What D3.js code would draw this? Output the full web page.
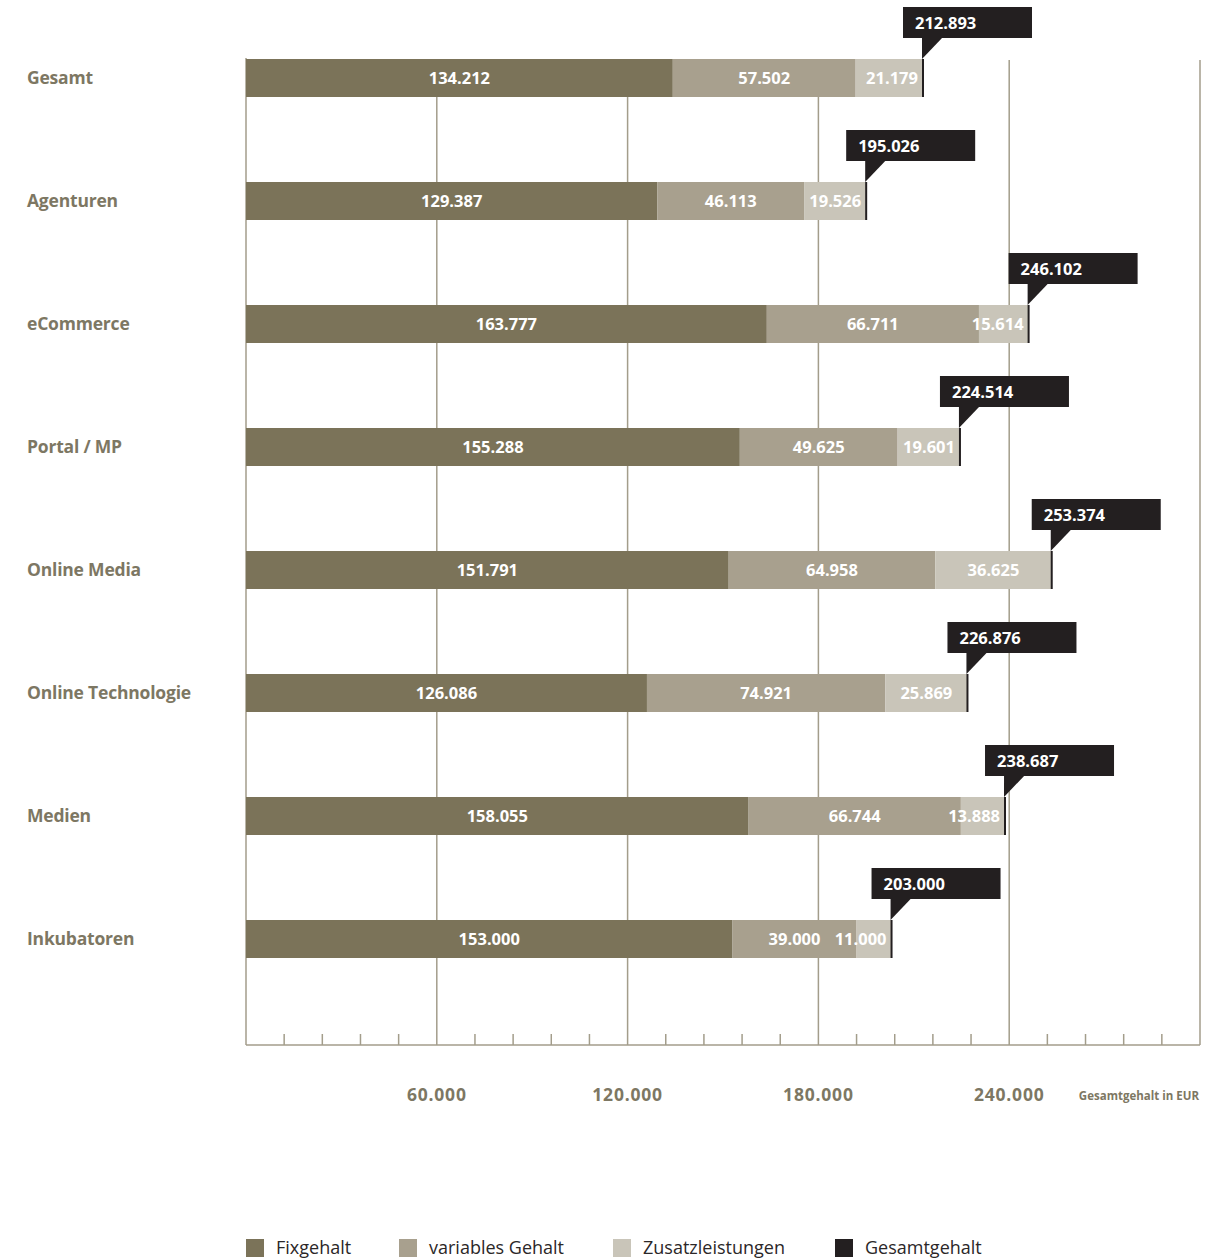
<!DOCTYPE html>
<html>
<head>
<meta charset="utf-8">
<script src="https://cdn.jsdelivr.net/npm/d3@7"></script>
<style>
  body { margin: 0; background: #fff; }
  svg { display: block; font-family: "Open Sans", sans-serif; }
</style>
</head>
<body>
<div id="chart"></div>
<script>
// data
const categories = ["Gesamt", "Agenturen", "eCommerce", "Portal / MP", "Online Media",
  "Online Technologie", "Medien", "Inkubatoren"];
const fixgehalt = [134212, 129387, 163777, 155288, 151791, 126086, 158055, 153000];
const variablesGehalt = [57502, 46113, 66711, 49625, 64958, 74921, 66744, 39000];
const zusatzleistungen = [21179, 19526, 15614, 19601, 36625, 25869, 13888, 11000];
const gesamtgehalt = [212893, 195026, 246102, 224514, 253374, 226876, 238687, 203000];
const tickValues = [60000, 120000, 180000, 240000];
const seriesNames = ["Fixgehalt", "variables Gehalt", "Zusatzleistungen", "Gesamtgehalt"];

const colors = ["#7b7359", "#a8a08e", "#c9c5b9", "#231f20"];
const labelColor = "#7d7763";
const fmt = d3.formatLocale({ decimal: ",", thousands: ".", grouping: [3] }).format(",d");

const width = 1230, height = 1259;
const svg = d3.select("#chart").append("svg")
  .attr("width", width)
  .attr("height", height);

const x = d3.scaleLinear().domain([0, 300000]).range([246, 1200]);
const y = d3.scalePoint().domain(categories).range([78, 939]);
const barH = 38;
const axisY = 1045;

// grid lines
svg.append("g")
  .selectAll("line")
  .data([60000, 120000, 180000, 240000, 300000])
  .join("line")
  .attr("x1", d => x(d)).attr("x2", d => x(d))
  .attr("y1", 60).attr("y2", axisY)
  .attr("stroke", "#a39d8b")
  .attr("stroke-width", 1.5);

// left axis + bottom axis line
svg.append("line")
  .attr("x1", x(0)).attr("x2", x(0))
  .attr("y1", 58).attr("y2", axisY)
  .attr("stroke", "#a39d8b").attr("stroke-width", 1.5);
svg.append("line")
  .attr("x1", x(0)).attr("x2", x(300000))
  .attr("y1", axisY).attr("y2", axisY)
  .attr("stroke", "#a39d8b").attr("stroke-width", 1.5);

// minor ticks every 12.000
svg.append("g")
  .selectAll("line")
  .data(d3.range(12000, 300000, 12000).filter(d => d % 60000 !== 0))
  .join("line")
  .attr("x1", d => x(d)).attr("x2", d => x(d))
  .attr("y1", axisY - 11).attr("y2", axisY)
  .attr("stroke", "#a39d8b").attr("stroke-width", 1.5);

// tick labels
svg.append("g")
  .selectAll("text")
  .data(tickValues)
  .join("text")
  .attr("x", d => x(d))
  .attr("y", 1101)
  .attr("text-anchor", "middle")
  .attr("font-size", 17.5)
  .attr("font-weight", 700)
  .attr("letter-spacing", 0.8)
  .attr("fill", labelColor)
  .text(d => fmt(d));

svg.append("text")
  .attr("x", 1199).attr("y", 1100)
  .attr("text-anchor", "end")
  .attr("font-size", 11.5)
  .attr("font-weight", 700)
  .attr("fill", labelColor)
  .text("Gesamtgehalt in EUR");

// category labels
svg.append("g")
  .selectAll("text")
  .data(categories)
  .join("text")
  .attr("x", 27)
  .attr("y", d => y(d) + 6)
  .attr("font-size", 17.5)
  .attr("font-weight", 700)
  .attr("fill", labelColor)
  .attr("letter-spacing", -0.2)
  .text(d => d);

// stacked segments
const rows = categories.map((c, i) => {
  const vals = [fixgehalt[i], variablesGehalt[i], zusatzleistungen[i]];
  let acc = 0;
  const segs = vals.map((v, k) => {
    const s = { cat: c, k, v, x0: acc, x1: acc + v };
    acc += v;
    return s;
  });
  return { cat: c, segs, total: gesamtgehalt[i] };
});

const rowG = svg.append("g")
  .selectAll("g")
  .data(rows)
  .join("g");

rowG.selectAll("rect.seg")
  .data(d => d.segs)
  .join("rect")
  .attr("class", "seg")
  .attr("x", d => x(d.x0))
  .attr("y", d => y(d.cat) - barH / 2)
  .attr("width", d => x(d.x1) - x(d.x0))
  .attr("height", barH)
  .attr("fill", d => colors[d.k]);

rowG.selectAll("text.seg")
  .data(d => d.segs)
  .join("text")
  .attr("class", "seg")
  .attr("x", d => {
    const w = x(d.x1) - x(d.x0);
    return w < 70 ? x(d.x1) - 5 : (x(d.x0) + x(d.x1)) / 2;
  })
  .attr("text-anchor", d => (x(d.x1) - x(d.x0) < 70 ? "end" : "middle"))
  .attr("y", d => y(d.cat) + 6)
  .attr("font-size", 16.5)
  .attr("font-weight", 700)
  .attr("fill", "#fff")
  .text(d => fmt(d.v));

// total marker line
rowG.append("line")
  .attr("x1", d => x(d.total)).attr("x2", d => x(d.total))
  .attr("y1", d => y(d.cat) - barH / 2)
  .attr("y2", d => y(d.cat) + barH / 2)
  .attr("stroke", colors[3])
  .attr("stroke-width", 2);

// callout box
rowG.append("rect")
  .attr("x", d => x(d.total) - 20)
  .attr("y", d => y(d.cat) - barH / 2 - 52)
  .attr("width", 129)
  .attr("height", 31)
  .attr("fill", colors[3]);

rowG.append("path")
  .attr("d", d => {
    const tx = x(d.total), top = y(d.cat) - barH / 2;
    return `M${tx - 1},${top - 22}L${tx + 20},${top - 22}L${tx - 1},${top}Z`;
  })
  .attr("fill", colors[3]);

rowG.append("text")
  .attr("x", d => x(d.total) - 8)
  .attr("y", d => y(d.cat) - barH / 2 - 30)
  .attr("font-size", 16.5)
  .attr("font-weight", 700)
  .attr("fill", "#fff")
  .text(d => fmt(d.total));

// legend
const legendX = [246, 399, 613, 835];
const legend = svg.append("g")
  .selectAll("g")
  .data(seriesNames)
  .join("g")
  .attr("transform", (d, i) => `translate(${legendX[i]},1239)`);

legend.append("rect")
  .attr("width", 18).attr("height", 18)
  .attr("fill", (d, i) => colors[i]);

legend.append("text")
  .attr("x", 30).attr("y", 15)
  .attr("font-size", 18)
  .attr("fill", "#2b2728")
  .text(d => d);
</script>
</body>
</html>
